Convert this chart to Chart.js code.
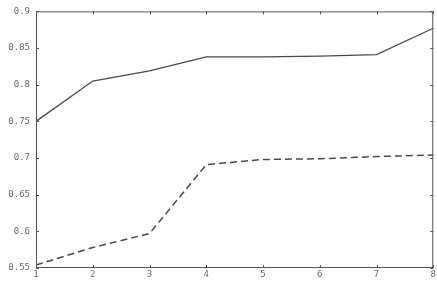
<!DOCTYPE html>
<html>
<head>
<meta charset="utf-8">
<script src="https://cdn.jsdelivr.net/npm/chart.js@4/dist/chart.umd.min.js"></script>
<style>
  html, body { margin: 0; padding: 0; background: #fff; }
  #wrap { width: 437px; height: 281px; position: relative; }
</style>
</head>
<body>
<div id="wrap"><canvas id="chart"></canvas></div>
<script>
// data
const xLabels = ['1', '2', '3', '4', '5', '6', '7', '8'];
const solidValues = [0.750, 0.805, 0.819, 0.838, 0.838, 0.839, 0.841, 0.877];
const dashedValues = [0.554, 0.578, 0.597, 0.691, 0.698, 0.699, 0.702, 0.704];
const yTicks = [0.55, 0.6, 0.65, 0.7, 0.75, 0.8, 0.85, 0.9];

const ink = '#4a4a4a';
const labelInk = '#6a6a6a';

// box around the plot + inward tick marks on all four sides
const frame = {
  id: 'frame',
  afterDraw(chart) {
    const { ctx, chartArea: a, scales } = chart;
    ctx.save();
    ctx.strokeStyle = '#555';
    ctx.lineWidth = 1;
    ctx.strokeRect(a.left + 0.5, a.top + 0.5, a.right - a.left - 1, a.bottom - a.top - 1);
    ctx.beginPath();
    scales.x.ticks.forEach((t, i) => {
      const px = Math.round(scales.x.getPixelForTick(i)) + 0.5;
      ctx.moveTo(px, a.bottom); ctx.lineTo(px, a.bottom - 3);
      ctx.moveTo(px, a.top); ctx.lineTo(px, a.top + 3);
    });
    yTicks.forEach(v => {
      const py = Math.round(scales.y.getPixelForValue(v)) + 0.5;
      ctx.moveTo(a.left, py); ctx.lineTo(a.left + 3, py);
      ctx.moveTo(a.right, py); ctx.lineTo(a.right - 3, py);
    });
    ctx.stroke();
    ctx.restore();
  }
};

new Chart(document.getElementById('chart'), {
  type: 'line',
  data: {
    labels: xLabels,
    datasets: [
      {
        data: solidValues,
        borderColor: ink,
        borderWidth: 1.3,
        pointRadius: 0,
        tension: 0,
      },
      {
        data: dashedValues,
        borderColor: ink,
        borderWidth: 1.5,
        borderDash: [7, 4],
        pointRadius: 0,
        tension: 0,
      },
    ],
  },
  options: {
    responsive: true,
    maintainAspectRatio: false,
    animation: false,
    layout: { padding: { top: 5, right: 1, left: 0, bottom: 0 } },
    plugins: {
      legend: { display: false },
      tooltip: { enabled: false },
    },
    scales: {
      x: {
        offset: false,
        grid: { display: false, drawTicks: false },
        border: { display: false },
        ticks: {
          color: labelInk,
          font: { family: 'DejaVu Sans Mono', size: 9 },
          padding: 1,
          maxRotation: 0,
          autoSkip: false,
        },
        afterFit(scale) { scale.height = 13; },
      },
      y: {
        min: 0.55,
        max: 0.9,
        grid: { display: false, drawTicks: false },
        border: { display: false },
        afterBuildTicks(scale) {
          scale.ticks = yTicks.map(v => ({ value: v }));
        },
        ticks: {
          color: labelInk,
          font: { family: 'DejaVu Sans Mono', size: 9 },
          padding: 6,
          callback: v => String(+v.toFixed(2)),
        },
        afterFit(scale) { scale.width = 36; },
      },
    },
  },
  plugins: [frame],
});
</script>
</body>
</html>
